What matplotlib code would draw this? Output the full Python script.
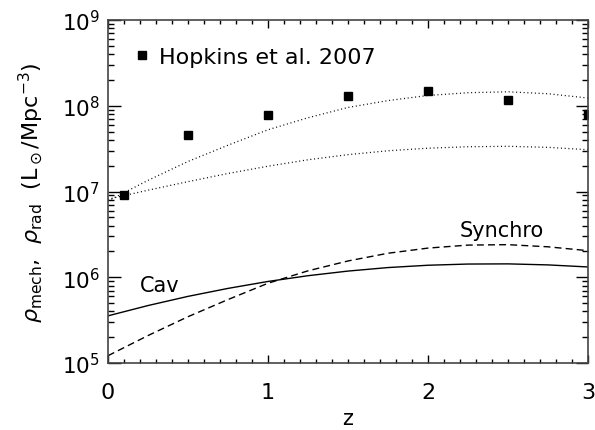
import matplotlib
matplotlib.use("Agg")
import matplotlib.pyplot as plt
import numpy as np
from matplotlib.ticker import MultipleLocator, LogLocator, NullFormatter

# redshift grid the model curves were read on
z = [0.0, 0.25, 0.5, 0.75, 1.0, 1.25, 1.5, 1.75, 2.0, 2.25, 2.5, 2.75, 3.0]

# log10 of luminosity densities
log_rad_hi = [6.89, 7.13, 7.35, 7.54, 7.72, 7.86, 7.98, 8.06, 8.12, 8.152, 8.163, 8.14, 8.09]
log_rad_lo = [6.91, 7.015, 7.115, 7.21, 7.295, 7.37, 7.43, 7.475, 7.505, 7.522, 7.527, 7.515, 7.487]
log_cav = [5.55, 5.67, 5.777, 5.87, 5.951, 6.018, 6.072, 6.113, 6.14, 6.154, 6.156, 6.144, 6.12]
log_synchro = [5.085, 5.32, 5.54, 5.74, 5.93, 6.075, 6.19, 6.28, 6.34, 6.375, 6.38, 6.355, 6.31]

# Hopkins et al. 2007 points
z_hop = [0.1, 0.5, 1.0, 1.5, 2.0, 2.5, 3.0]
rho_hop = [9.1e6, 4.6e7, 7.9e7, 1.29e8, 1.47e8, 1.17e8, 8.0e7]

plt.rcParams['font.family'] = ['DejaVu Sans']
plt.rcParams['mathtext.fontset'] = 'dejavusans'

fig = plt.figure(figsize=(5.95, 4.31), dpi=100)
ax = fig.add_axes([108/595, 1-364/431, 480/595, 343/431])

zz = np.array(z)
ax.plot(zz, 10**np.array(log_rad_hi), color='black', lw=0.9, ls=(0, (0.8, 2.2)))
ax.plot(zz, 10**np.array(log_rad_lo), color='black', lw=0.9, ls=(0, (0.8, 2.2)))
ax.plot(zz, 10**np.array(log_cav), color='black', lw=1.0, ls='-')
ax.plot(zz, 10**np.array(log_synchro), color='black', lw=1.0, ls=(0, (5, 3)))
ax.plot(z_hop, rho_hop, 's', color='black', ms=5.3,
        label='Hopkins et al. 2007')

ax.set_yscale('log')
ax.set_xlim(0, 3)
ax.set_ylim(1e5, 1e9)

ax.text(0.2, 10**5.91, 'Cav', fontsize=15, va='center', ha='left')
ax.text(2.2, 10**6.55, 'Synchro', fontsize=15, va='center', ha='left')

ax.legend(loc='center left', bbox_to_anchor=(0.053, 0.893), frameon=False,
          numpoints=1, fontsize=16, handlelength=0.8, handletextpad=0.35,
          borderpad=0, borderaxespad=0)

ax.xaxis.set_major_locator(MultipleLocator(1))
ax.xaxis.set_minor_locator(MultipleLocator(0.1))
ax.yaxis.set_major_locator(LogLocator(base=10, numticks=10))
ax.yaxis.set_minor_locator(LogLocator(base=10, subs=np.arange(2, 10), numticks=20))
ax.yaxis.set_minor_formatter(NullFormatter())

ax.tick_params(which='both', direction='in', top=True, right=True, width=1)
ax.tick_params(axis='x', which='major', length=6, pad=14, labelsize=16)
ax.tick_params(axis='x', which='minor', length=3)
ax.tick_params(axis='y', which='major', length=9, pad=6, labelsize=15.5)
ax.tick_params(axis='y', which='minor', length=4.5)
for s in ax.spines.values():
    s.set_linewidth(1.2)
    s.set_color('#444444')

ax.set_xlabel('z', fontsize=15, va='baseline')
ax.xaxis.set_label_coords(0.5, -0.178)
ax.set_ylabel(r'$\rho_{\rm mech}$,  $\rho_{\rm rad}$  (L$_\odot$/Mpc$^{-3}$)',
              fontsize=16)
ax.yaxis.set_label_coords(-0.131, 0.5)

fig.savefig('out.png', dpi=100)
